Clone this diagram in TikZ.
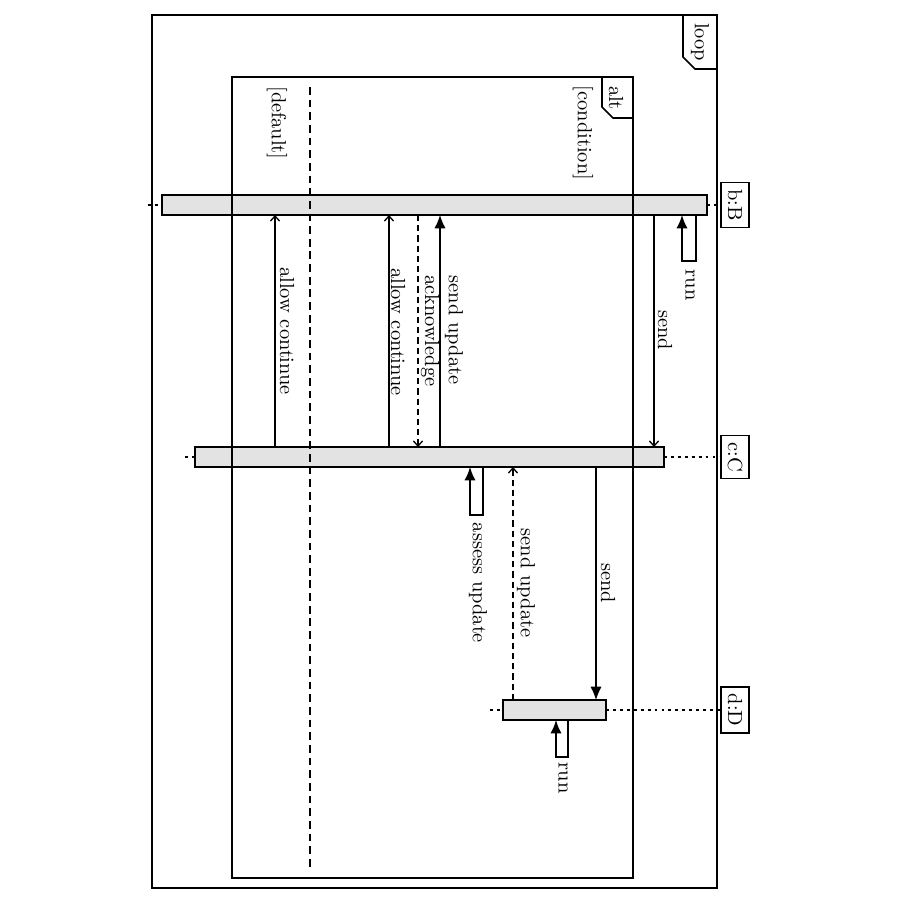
\documentclass[tikz,border=0pt]{standalone}
\usetikzlibrary{arrows.meta}
\begin{document}
\begin{tikzpicture}[x=0.49pt,y=-0.49pt,
  frame/.style={line width=0.8pt},
  bar/.style={draw, line width=0.7pt, fill=gray!22, inner sep=0pt, outer sep=0pt, minimum height=9.8pt},
  lifebox/.style={draw, line width=0.7pt, rotate=-90, inner sep=3.3pt, outer sep=0pt},
  lifeline/.style={line width=0.7pt, dash pattern=on 1.4pt off 2pt},
  lbl/.style={rotate=-90, inner sep=0pt},
  msgopen/.style={line width=0.65pt, -{Straight Barb[length=2.5pt,width=4.5pt]}},
  msgfill/.style={line width=0.65pt, -{Latex[length=6.5pt,width=5.5pt]}},
  selfcall/.style={line width=0.9pt, -{Latex[length=6.5pt,width=5.5pt]}},
  msgdash/.style={dash pattern=on 3pt off 2pt},
  divider/.style={line width=0.8pt, dash pattern=on 3.8pt off 2.4pt}]
\useasboundingbox (0,0) rectangle (900,900);

% activation bars
\node[bar, minimum width=267pt] (barB) at (434.5,205) {};
\node[bar, minimum width=229.8pt] (barC) at (429.5,457) {};
\node[bar, minimum width=50.5pt] (barD) at (554.5,710) {};

% lifeline heads
\node[lifebox] (bB) at (735,205) {b:B};
\node[lifebox] (cC) at (735,457) {c:C};
\node[lifebox] (dD) at (735,710) {d:D};

% lifelines
\coordinate (stubB) at (148,205);
\coordinate (stubC) at (185,457);
\coordinate (stubD) at (490,710);
\draw[lifeline] (stubB) -- (barB.west);
\draw[lifeline] (barB.east) -- (bB.south);
\draw[lifeline] (stubC) -- (barC.west);
\draw[lifeline] (barC.east) -- (cC.south);
\draw[lifeline] (stubD) -- (barD.west);
\draw[lifeline] (barD.east) -- (dD.south);

% frames
\draw[frame] (152,15) rectangle (717,888);
\draw[frame] (683,15) -- (683,57) -- (695,69) -- (717,69);
\node[lbl] (looplbl) at (700,42) {loop};
\draw[frame] (232,77) rectangle (633,878);
\draw[frame] (602,77) -- (602,107) -- (613,118) -- (633,118);
\node[lbl] (altlbl) at (616,98) {alt};
\node[lbl] (cond) at (583,133) {[condition]};
\node[lbl] (dflt) at (277,123) {[default]};
\coordinate (divtop) at (310,87);
\coordinate (divbot) at (310,868);
\draw[divider] (divtop) -- (divbot);

% messages b <-> c
\coordinate (m1) at (654,0);
\coordinate (m2) at (440,0);
\coordinate (m3) at (418,0);
\coordinate (m4) at (389,0);
\coordinate (m5) at (275,0);
\draw[msgopen] (barB.south -| m1) -- (barC.north -| m1);
\node[lbl] (l1) at (665,330) {send};
\draw[msgfill] (barC.north -| m2) -- (barB.south -| m2);
\node[lbl] (l2) at (454,330) {send update};
\draw[msgopen, msgdash] (barB.south -| m3) -- (barC.north -| m3);
\node[lbl] (l3) at (430,331) {acknowledge};
\draw[msgopen] (barC.north -| m4) -- (barB.south -| m4);
\node[lbl] (l4) at (398,332) {allow continue};
\draw[msgopen] (barC.north -| m5) -- (barB.south -| m5);
\node[lbl] (l5) at (287,331) {allow continue};

% messages c <-> d
\coordinate (m6) at (596,0);
\coordinate (m7) at (513,0);
\draw[msgfill] (barC.south -| m6) -- (barD.north -| m6);
\node[lbl] (l6) at (608,583) {send};
\draw[msgopen, msgdash] (barD.north -| m7) -- (barC.south -| m7);
\node[lbl] (l7) at (526,583) {send update};

% self calls
\coordinate (rbR) at (696,261);
\coordinate (rbL) at (682,261);
\draw[selfcall] (barB.south -| rbR) -- (rbR) -- (rbL) -- (barB.south -| rbL);
\node[lbl] (l8) at (690,285) {run};
\coordinate (acR) at (483,515);
\coordinate (acL) at (470,515);
\draw[selfcall] (barC.south -| acR) -- (acR) -- (acL) -- (barC.south -| acL);
\node[lbl] (l9) at (478,583) {assess update};
\coordinate (rdR) at (568,757);
\coordinate (rdL) at (556,757);
\draw[selfcall] (barD.south -| rdR) -- (rdR) -- (rdL) -- (barD.south -| rdL);
\node[lbl] (l10) at (563,778) {run};
\end{tikzpicture}
\end{document}
